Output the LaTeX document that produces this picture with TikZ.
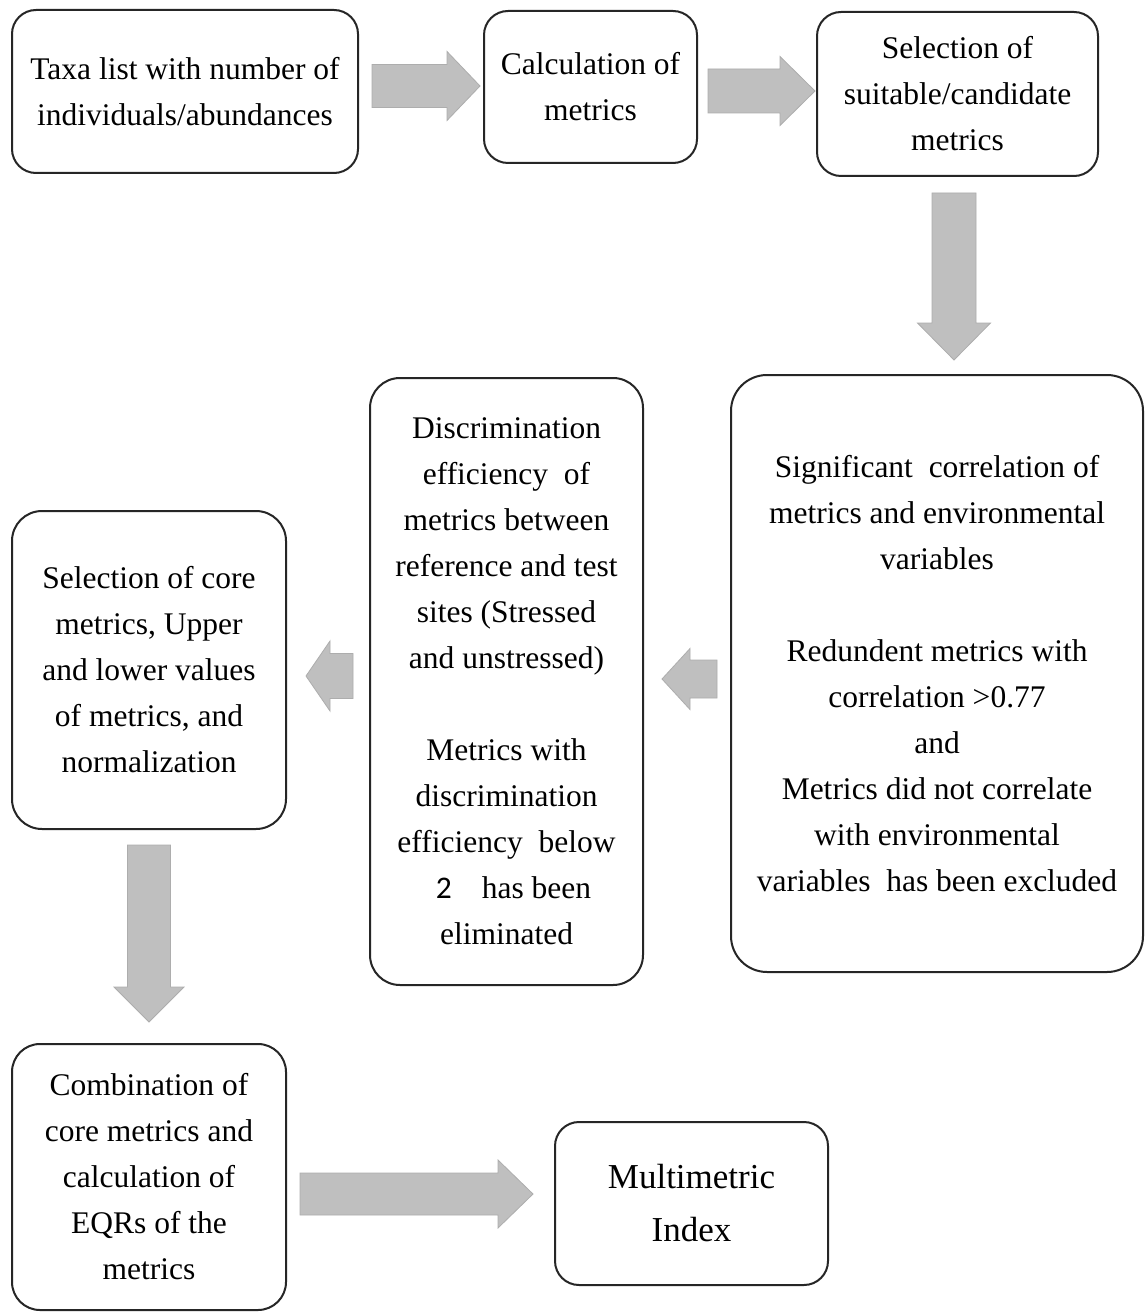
\documentclass[tikz,border=0pt]{standalone}
\usepackage{fontspec}
\setmainfont{Liberation Serif}
\newfontfamily\carlito{Carlito}
\begin{document}
\begin{tikzpicture}[x=1pt,y=-1pt,
  box/.style={draw=black!85, line width=2pt, rounded corners=24pt, align=center, inner sep=0pt,
    font=\fontsize{31.5}{46}\selectfont},
  bigbox/.style={box, rounded corners=36pt},
  blockarrow/.style={fill=black!25, draw=black!32, line width=0.8pt, line join=miter}]
\useasboundingbox[fill=white] (0,0) rectangle (1147,1313);

% boxes
\node[box, minimum width=346pt, minimum height=163pt] (taxa) at (185,91.5)
  {Taxa list with number of\\individuals/abundances};
\node[box, minimum width=213pt, minimum height=152pt] (calc) at (590.5,87)
  {Calculation of\\metrics};
\node[box, minimum width=281pt, minimum height=164pt] (sel) at (957.5,94)
  {Selection of\\suitable/candidate\\metrics};
\node[bigbox, minimum width=412pt, minimum height=597pt] (sig) at (937,673.5)
  {Significant~ correlation of\\metrics and environmental\\variables\\[46pt]Redundent metrics with\\correlation >0.77\\and\\Metrics did not correlate\\with environmental\\variables~ has been excluded};
\node[bigbox, rounded corners=30pt, minimum width=273pt, minimum height=607pt] (disc) at (506.5,681.5)
  {Discrimination\\efficiency~ of\\metrics between\\reference and test\\sites (Stressed\\and unstressed)\\[46pt]Metrics with\\discrimination\\efficiency~ below\\\hspace*{14pt}{\carlito 2}\hspace{30pt}has been\\eliminated};
\node[box, rounded corners=30pt, minimum width=274pt, minimum height=318pt] (core) at (149,670)
  {Selection of core\\metrics, Upper\\and lower values\\of metrics, and\\normalization};
\node[box, rounded corners=28pt, minimum width=274pt, minimum height=266pt] (comb) at (149,1177)
  {Combination of\\core metrics and\\calculation of\\EQRs of the\\metrics};
\node[box, minimum width=273pt, minimum height=163pt, font=\fontsize{35}{53}\selectfont] (mmi) at (691.5,1203.5)
  {Multimetric\\Index};

% block arrows
% taxa -> calc
\draw[blockarrow] (372,64.5) -- (447,64.5) -- (447,51.5) -- (480,86) -- (447,120.5) -- (447,107.5) -- (372,107.5) -- cycle;
% calc -> sel
\draw[blockarrow] (708,69) -- (780,69) -- (780,56.5) -- (815,91) -- (780,125.5) -- (780,113) -- (708,113) -- cycle;
% sel -> sig
\draw[blockarrow] (932,193) -- (976,193) -- (976,323) -- (990.5,323) -- (954,360) -- (917.5,323) -- (932,323) -- cycle;
% sig -> disc
\draw[blockarrow] (717,660) -- (690,660) -- (690,648.5) -- (662,679) -- (690,709.5) -- (690,698) -- (717,698) -- cycle;
% disc -> core
\draw[blockarrow] (353,653.5) -- (330,653.5) -- (330,641) -- (306,676) -- (330,711) -- (330,698.5) -- (353,698.5) -- cycle;
% core -> comb
\draw[blockarrow] (127.5,845) -- (170.5,845) -- (170.5,987) -- (184,987) -- (149,1022) -- (114,987) -- (127.5,987) -- cycle;
% comb -> mmi
\draw[blockarrow] (300,1173) -- (498,1173) -- (498,1160) -- (533,1194) -- (498,1228) -- (498,1215) -- (300,1215) -- cycle;
\end{tikzpicture}
\end{document}
